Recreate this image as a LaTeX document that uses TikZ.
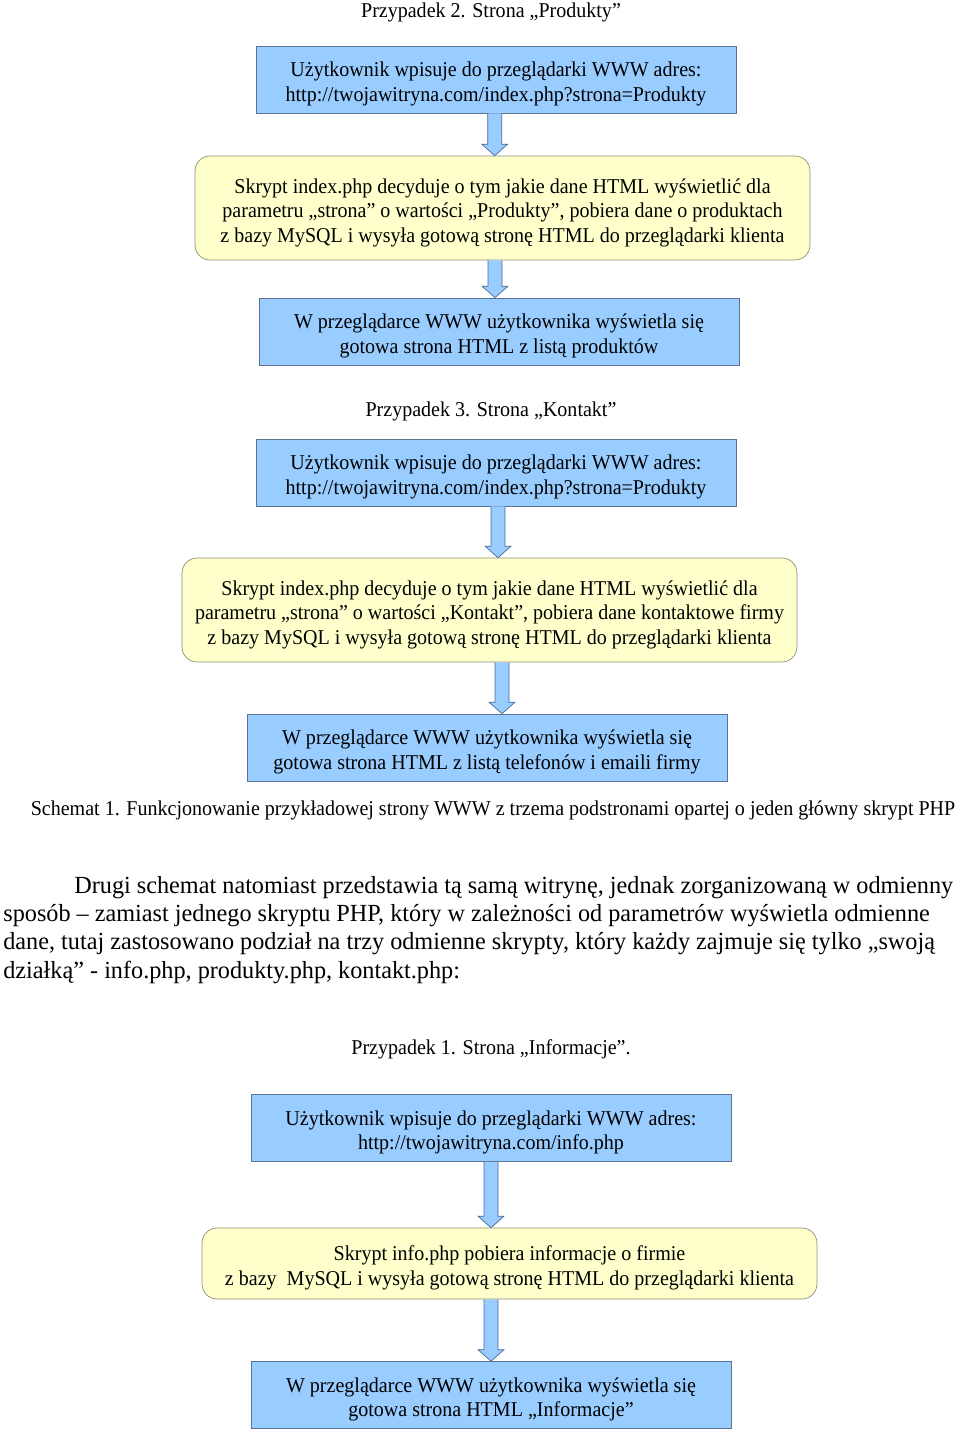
\documentclass[tikz,border=0pt]{standalone}
\usepackage{fontspec}
\setmainfont{Liberation Serif}
\newfontfamily\diagfont[FakeStretch=0.95]{Liberation Serif}
\newfontfamily\parafont[FakeStretch=0.985]{Liberation Serif}
\usetikzlibrary{calc}
\definecolor{boxblue}{HTML}{99CCFF}
\definecolor{boxyellow}{HTML}{FFFFCC}
\definecolor{blueline}{HTML}{5B7494}
\definecolor{yellowline}{HTML}{8F8F74}
\definecolor{arrowline}{HTML}{4A6A96}
\newcommand{\topgap}{\rule{0pt}{13.5pt}}

\begin{document}
\begin{tikzpicture}[x=0.02cm, y=-0.02cm]
\tikzset{
  txt/.style={font=\diagfont\fontsize{12}{13.9}\selectfont, inner sep=0pt, align=center},
  bluebox/.style={txt, draw=blueline, fill=boxblue, minimum width=9.6cm, minimum height=1.34cm},
  yellowbox/.style={txt, draw=yellowline, fill=boxyellow, rounded corners=0.3cm, minimum width=12.3cm, minimum height=2.08cm},
  bigarrow/.style={draw=arrowline, fill=boxblue},
  paraline/.style={font=\parafont\fontsize{14}{16}\selectfont, anchor=west, inner sep=0pt}
}
\useasboundingbox (0,0) rectangle (960,1437);

    \node[txt] (T2) at (491,12) {Przypadek 2. Strona „Produkty”};
    \node[bluebox] (U2) at (496,79.5) {\topgap Użytkownik wpisuje do przeglądarki WWW adres:\\http://twojawitryna.com/index.php?strona=Produkty};
    \node[yellowbox] (S2) at (502.5,208) {\topgap Skrypt index.php decyduje o tym jakie dane HTML wyświetlić dla\\parametru „strona” o wartości „Produkty”, pobiera dane o produktach\\z bazy MySQL i wysyła gotową stronę HTML do przeglądarki klienta};
    \node[bluebox] (W2) at (499,331.5) {\topgap W przeglądarce WWW użytkownika wyświetla się\\gotowa strona HTML z listą produktów};
% % % % % % % % % % % % % % % % % % %
    \node[txt] (T3) at (491,411) {Przypadek 3. Strona „Kontakt”};
    \node[bluebox] (U3) at (496,472.5) {\topgap Użytkownik wpisuje do przeglądarki WWW adres:\\http://twojawitryna.com/index.php?strona=Produkty};
    \node[yellowbox] (S3) at (489.5,610) {\topgap Skrypt index.php decyduje o tym jakie dane HTML wyświetlić dla\\parametru „strona” o wartości „Kontakt”, pobiera dane kontaktowe firmy\\z bazy MySQL i wysyła gotową stronę HTML do przeglądarki klienta};
    \node[bluebox] (W3) at (487,747.5) {\topgap W przeglądarce WWW użytkownika wyświetla się\\gotowa strona HTML z listą telefonów i emaili firmy};

    \node[txt] (C1) at (493,810) {Schemat 1. Funkcjonowanie przykładowej strony WWW z trzema podstronami opartej o jeden główny skrypt PHP};

    \node[paraline] (P1) at (74,888) {Drugi schemat natomiast przedstawia tą samą witrynę, jednak zorganizowaną w odmienny};
    \node[paraline] (P2) at (3,916) {sposób – zamiast jednego skryptu PHP, który w zależności od parametrów wyświetla odmienne};
    \node[paraline] (P3) at (3,944) {dane, tutaj zastosowano podział na trzy odmienne skrypty, który każdy zajmuje się tylko „swoją};
    \node[paraline] (P4) at (3,972) {działką” - info.php, produkty.php, kontakt.php:};
% % % % % % % % % % % % % % % % % % %
    \node[txt] (T1) at (491,1049) {Przypadek 1. Strona „Informacje”.};
    \node[bluebox] (U1) at (491,1128) {\topgap Użytkownik wpisuje do przeglądarki WWW adres:\\http://twojawitryna.com/info.php};
    \node[yellowbox, minimum height=1.42cm] (S1) at (509.5,1263.5) {\topgap Skrypt info.php pobiera informacje o firmie\\z bazy~~MySQL i wysyła gotową stronę HTML do przeglądarki klienta};
    \node[bluebox] (W1) at (491,1395) {\topgap W przeglądarce WWW użytkownika wyświetla się\\gotowa strona HTML „Informacje”};
% % % % % % % % % % % % % % % % % % %
    \foreach \a/\b/\d in {U2/S2/-1.3, S2/W2/-7.5, U3/S3/2, S3/W3/12.5, U1/S1/0, S1/W1/-18.5}
        \draw[bigarrow] let \p1=(\a.south), \p2=(\b.north) in
            ({\x1+(\d-7)*0.02cm},\y1) -- ({\x1+(\d-7)*0.02cm},{\y2+0.23cm})
            -- ({\x1+(\d-13)*0.02cm},{\y2+0.23cm}) -- ({\x1+\d*0.02cm},\y2)
            -- ({\x1+(\d+13)*0.02cm},{\y2+0.23cm}) -- ({\x1+(\d+7)*0.02cm},{\y2+0.23cm})
            -- ({\x1+(\d+7)*0.02cm},\y1);
\end{tikzpicture}
\end{document}
